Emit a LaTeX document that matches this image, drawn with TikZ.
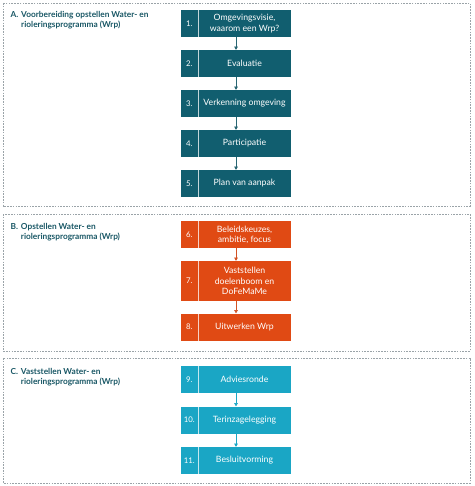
\documentclass[tikz,border=0pt]{standalone}
\usepackage{fontspec}
\setmainfont{Lato}
\setsansfont{Lato}
\usetikzlibrary{arrows.meta}
\definecolor{tealA}{HTML}{115E6F}
\definecolor{orangeB}{HTML}{E04A14}
\definecolor{cyanC}{HTML}{1AA6C5}
\definecolor{titlecol}{HTML}{1A5866}
\definecolor{framecol}{HTML}{9AA3A8}
\tikzset{
  groupbox/.style={draw=framecol, dash pattern=on 1.6pt off 1.2pt, line width=0.6pt},
  stepbox/.style={rectangle, minimum width=110pt, inner sep=0pt, fill=#1},
  numtxt/.style={text=white, font=\sffamily\fontsize{7.8}{9}\selectfont, inner sep=0pt},
  steptxt/.style={text=white, font=\sffamily\fontsize{8.7}{10.2}\selectfont, align=center, inner sep=0pt},
  titletxt/.style={text=titlecol, font=\sffamily\bfseries\fontsize{8.3}{10}\selectfont, anchor=north west, inner sep=0pt},
  divider/.style={white, opacity=0.75, line width=0.6pt},
  flow/.style={draw=#1, line width=0.6pt, -{Triangle[length=3.2pt,width=3.6pt]}},
}
\newcommand\mkstep[6]{%
  \node[stepbox=#4, minimum height=#3pt] (#1) at (236pt,-#2pt) {};
  \draw[divider] ([xshift=17pt]#1.north west) -- ([xshift=17pt]#1.south west);
  \node[numtxt] (#1n) at ([xshift=8.5pt]#1.west) {#5};
  \node[steptxt] (#1t) at ([xshift=8.5pt]#1.center) {#6};
}
\begin{document}
\begin{tikzpicture}[x=1pt,y=1pt]
\useasboundingbox (0,0) rectangle (474,-486);
\fill[white] (0,0) rectangle (474,-486);
% group frames
\draw[groupbox] (3,-3) rectangle (470,-206);
\draw[groupbox] (3,-214) rectangle (470,-351);
\draw[groupbox] (3,-358) rectangle (470,-483);
% titles
\node[titletxt] (tA) at (10.5,-10) {\begin{tabular}{@{}l@{\hspace{2.8pt}}l@{}}A. & Voorbereiding opstellen Water- en\\ & rioleringsprogramma (Wrp)\end{tabular}};
\node[titletxt] (tB) at (10.5,-222) {\begin{tabular}{@{}l@{\hspace{2.8pt}}l@{}}B. & Opstellen Water- en\\ & rioleringsprogramma (Wrp)\end{tabular}};
\node[titletxt] (tC) at (10.5,-367) {\begin{tabular}{@{}l@{\hspace{2.8pt}}l@{}}C. & Vaststellen Water- en\\ & rioleringsprogramma (Wrp)\end{tabular}};
% steps A
\mkstep{s1}{23.5}{27}{tealA}{1.}{Omgevingsvisie,\\waarom een Wrp?}
\mkstep{s2}{63.5}{27}{tealA}{2.}{Evaluatie}
\mkstep{s3}{103.5}{27}{tealA}{3.}{Verkenning omgeving}
\mkstep{s4}{143.5}{27}{tealA}{4.}{Participatie}
\mkstep{s5}{183.5}{27}{tealA}{5.}{Plan van aanpak}
% steps B
\mkstep{s6}{234.5}{27}{orangeB}{6.}{Beleidskeuzes,\\ambitie, focus}
\mkstep{s7}{281}{40}{orangeB}{7.}{Vaststellen\\doelenboom en\\DoFeMaMe}
\mkstep{s8}{327}{27}{orangeB}{8.}{Uitwerken Wrp}
% steps C
\mkstep{s9}{379.5}{27}{cyanC}{9.}{Adviesronde}
\mkstep{s10}{420}{27}{cyanC}{10.}{Terinzagelegging}
\mkstep{s11}{460.5}{27}{cyanC}{11.}{Besluitvorming}
% connectors
\draw[flow=tealA!80!gray] (s1) -- (s2);
\draw[flow=tealA!80!gray] (s2) -- (s3);
\draw[flow=tealA!80!gray] (s3) -- (s4);
\draw[flow=tealA!80!gray] (s4) -- (s5);
\draw[flow=orangeB!85!gray] (s6) -- (s7);
\draw[flow=orangeB!85!gray] (s7) -- (s8);
\draw[flow=cyanC] (s9) -- (s10);
\draw[flow=cyanC] (s10) -- (s11);
\end{tikzpicture}
\end{document}
